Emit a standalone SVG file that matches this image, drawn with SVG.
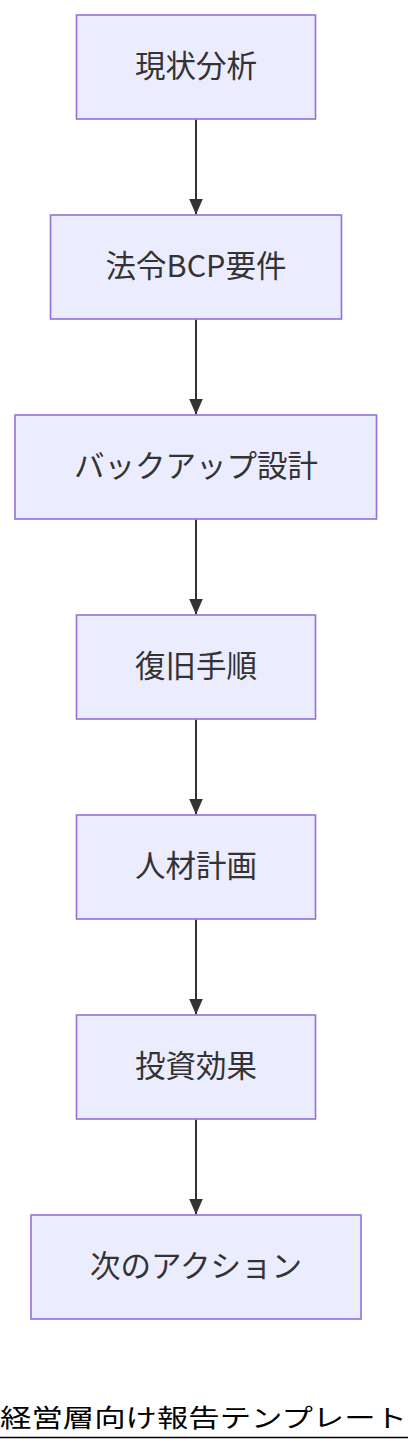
<svg xmlns="http://www.w3.org/2000/svg" width="408" height="1452" viewBox="0 0 408 1452">
<defs>
<style>
.node rect{fill:#ECECFF;stroke:#9370DB;stroke-width:1.6px}
.node text{font-family:"Noto Sans CJK JP","Noto Sans",sans-serif;font-size:30.5px;fill:#333;text-anchor:middle}
.edge{stroke:#333;stroke-width:2px;fill:none}
.title{font-family:"Noto Sans CJK JP","Noto Sans",sans-serif;font-size:25px;fill:#000}
</style>
<marker id="arrow" viewBox="0 0 16 14" refX="16" refY="7" markerWidth="16" markerHeight="14" markerUnits="userSpaceOnUse" orient="auto">
<path d="M0,0 L16,7 L0,14 Z" fill="#333"/>
</marker>
</defs>
<rect width="408" height="1452" fill="#fff"/>
<g id="edges">
<path class="edge" d="M196,119.5 V214.5" marker-end="url(#arrow)"/>
<path class="edge" d="M196,319.5 V414.5" marker-end="url(#arrow)"/>
<path class="edge" d="M196,519.5 V614.5" marker-end="url(#arrow)"/>
<path class="edge" d="M196,719.5 V814.5" marker-end="url(#arrow)"/>
<path class="edge" d="M196,919.5 V1014.5" marker-end="url(#arrow)"/>
<path class="edge" d="M196,1119.5 V1214.5" marker-end="url(#arrow)"/>
</g>
<g id="n1" class="node"><rect x="76.5" y="15" width="239" height="104"/><text x="196" y="77">現状分析</text></g>
<g id="n2" class="node"><rect x="50.5" y="215" width="291" height="104"/><text x="196" y="277">法令BCP要件</text></g>
<g id="n3" class="node"><rect x="15" y="415" width="361.5" height="104"/><text x="196" y="477">バックアップ設計</text></g>
<g id="n4" class="node"><rect x="76.5" y="615" width="239" height="104"/><text x="196" y="677">復旧手順</text></g>
<g id="n5" class="node"><rect x="76.5" y="815" width="239" height="104"/><text x="196" y="877">人材計画</text></g>
<g id="n6" class="node"><rect x="76.5" y="1015" width="239" height="104"/><text x="196" y="1077">投資効果</text></g>
<g id="n7" class="node"><rect x="31" y="1215" width="330" height="104"/><text x="196" y="1277">次のアクション</text></g>
<g id="title">
<text class="title" x="0" y="1427" textLength="407" lengthAdjust="spacingAndGlyphs">経営層向け報告テンプレート</text>
<line x1="0" y1="1437.5" x2="408" y2="1437.5" stroke="#000" stroke-width="1.6"/>
</g>
</svg>
